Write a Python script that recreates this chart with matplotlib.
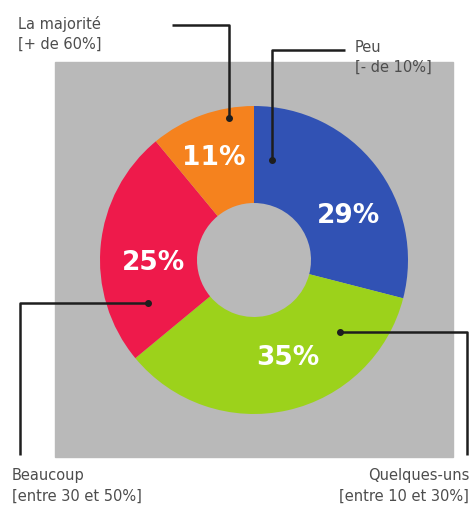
import matplotlib
matplotlib.use("Agg")
import matplotlib.pyplot as plt
from matplotlib.patches import Rectangle

# data (clockwise from 12 o'clock)
categories = ["Peu\n[- de 10%]", "Quelques-uns\n[entre 10 et 30%]",
              "Beaucoup\n[entre 30 et 50%]", "La majorité\n[+ de 60%]"]
values = [29, 35, 25, 11]
colors = ["#3152b4", "#9cd21b", "#ee1a4b", "#f5821e"]

W, H = 473, 508
fig = plt.figure(figsize=(W / 100, H / 100), dpi=100)
ax = fig.add_axes([0, 0, 1, 1])

def py(y):
    # pixel y (from top) -> data y
    return H - y

# gray panel
ax.add_patch(Rectangle((55, py(457)), 398, 395, color="#b9b9b9", zorder=0))

cx, cy, R = 254, py(260), 154
wedges, _, autotexts = ax.pie(values, colors=colors, startangle=90, counterclock=False,
                              center=(cx, cy), radius=R, autopct="%d%%", pctdistance=0.68,
                              wedgeprops=dict(width=97, linewidth=0),
                              textprops=dict(color="white", fontsize=19, fontweight="bold"))
# small nudges of the % labels, like the original
nudges = [(12, -20), (11, 4), (4, -13), (-5, 3)]
for t, (dx, dy) in zip(autotexts, nudges):
    x, y = t.get_position()
    t.set_position((x + dx, y + dy))

ax.set_xlim(0, W)
ax.set_ylim(0, H)
ax.set_aspect("equal")
ax.axis("off")

lc = "#1e1e1e"
tc = "#4d4d4d"
fs = 10.5

def leader(xs, ys):
    ax.plot(xs, [py(v) for v in ys], color=lc, lw=1.8, zorder=5, solid_capstyle="butt")
    ax.plot(xs[-1], py(ys[-1]), "o", color=lc, ms=4, zorder=6)

# La majorité
leader([172, 229, 229], [25, 25, 118])
ax.text(18, py(49), categories[3], ha="left", va="baseline", color=tc, fontsize=fs,
        linespacing=1.45)
# Peu
leader([345, 272, 272], [50, 50, 160])
ax.text(355, py(72), categories[0], ha="left", va="baseline", color=tc, fontsize=fs,
        linespacing=1.45)
# Beaucoup
leader([20, 20, 148], [455, 303, 303])
ax.text(12, py(501), categories[2], ha="left", va="baseline", color=tc, fontsize=fs,
        linespacing=1.5)
# Quelques-uns
leader([467, 467, 340], [455, 332, 332])
ax.text(469, py(501), categories[1], ha="right", va="baseline", color=tc, fontsize=fs,
        linespacing=1.5, multialignment="right")

fig.savefig("out.png", dpi=100)
